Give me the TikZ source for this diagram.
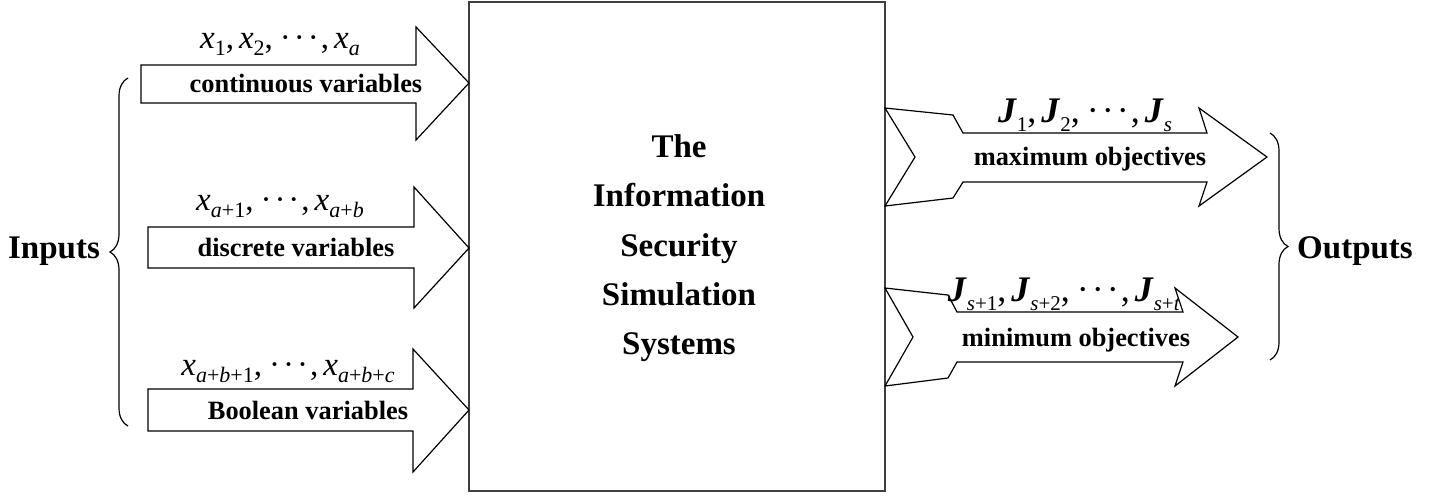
\documentclass[tikz,border=0pt]{standalone}
\usepackage{fontspec}
\setmainfont{Liberation Serif}
\usepackage{tikz}
\usetikzlibrary{decorations.pathreplacing}

% variables with a lowered index
\newcommand{\xv}[1]{\textit{x}\raisebox{-3.5pt}{\fontsize{11}{11}\selectfont#1}}
\newcommand{\Jv}[1]{\textbf{\textit{J}}\raisebox{-4.5pt}{\fontsize{10.5}{10.5}\selectfont#1}}
\newcommand{\dts}{\kern1pt·\kern1.5pt·\kern1.5pt·\kern1pt}
\newcommand{\cm}{,\kern2.5pt}

\begin{document}
\begin{tikzpicture}[x=0.5pt,y=-0.5pt,line width=0.6pt,
  lbl/.style={font=\fontsize{13.2}{13}\selectfont\bfseries,anchor=base},
  mth/.style={font=\fontsize{16.5}{16.5}\selectfont,anchor=base},
  mthJ/.style={font=\fontsize{18}{18}\selectfont,anchor=base},
  big/.style={font=\fontsize{16.5}{16.5}\selectfont\bfseries,anchor=base},
  brc/.style={decorate,decoration={brace,amplitude=9pt}}]
  \useasboundingbox (0,0) rectangle (1434,495);

  % the system block
  \draw[gray!50!black] (469,2) rectangle (885,491);
  \node[big] (the)  at (679,157) {The};
  \node[big] (info) at (679,206) {Information};
  \node[big] (sec)  at (679,256) {Security};
  \node[big] (sim)  at (679,305) {Simulation};
  \node[big] (sys)  at (679,354) {Systems};

  % input arrows
  \draw (141,65) -- (416,65) -- (416,27) -- (469,83) -- (416,140) -- (416,103) -- (141,103) -- cycle;
  \draw (148,227) -- (414,227) -- (414,187) -- (469,248) -- (414,308) -- (414,268) -- (148,268) -- cycle;
  \draw (148,389) -- (413,389) -- (413,349) -- (469,410) -- (413,472) -- (413,431) -- (148,431) -- cycle;

  \node[mth] (xcont) at (280,48) {\xv{1}\cm\xv{2}\cm\dts\cm\xv{\textit{a}}};
  \node[lbl] (cont)  at (306,92) {continuous variables};
  \node[mth] (xdisc) at (280,210) {\xv{\textit{a}+1}\cm\dts\cm\xv{\textit{a}+\textit{b}}};
  \node[lbl] (disc)  at (296,256) {discrete variables};
  \node[mth] (xbool) at (288,375) {\xv{\textit{a}+\textit{b}+1}\cm\dts\cm\xv{\textit{a}+\textit{b}+\textit{c}}};
  \node[lbl] (bool)  at (308,419) {Boolean variables};

  % output arrows, tails flared against the block
  \draw (885,108) -- (953,115) -- (963,133) -- (1207,133) -- (1199,108) -- (1267,157)
    -- (1199,206) -- (1207,182) -- (963,182) -- (953,198) -- (885,206) -- (915,157) -- cycle;
  \draw (885,288) -- (948,295) -- (957,312) -- (1183,312) -- (1175,288) -- (1238,337)
    -- (1175,386) -- (1183,362) -- (957,362) -- (948,378) -- (885,386) -- (913,337) -- cycle;

  \node[mthJ] (jmax) at (1085,122) {\Jv{1}\cm\Jv{2}\cm\dts\cm\Jv{\textit{s}}};
  \node[lbl]  (max)  at (1090,165) {maximum objectives};
  \node[mthJ] (jmin) at (1064,301) {\Jv{\textit{s}+1}\cm\Jv{\textit{s}+2}\cm\dts\cm\Jv{\textit{s}+\textit{t}}};
  \node[lbl]  (min)  at (1076,346) {minimum objectives};

  % braces
  \coordinate (inTop) at (128,78);
  \coordinate (inBot) at (128,426);
  \draw[brc] (inBot) -- (inTop);
  \node[big] (inputs) at (54,258) {Inputs};

  \coordinate (outTop) at (1270,133);
  \coordinate (outBot) at (1270,360);
  \draw[brc] (outTop) -- (outBot);
  \node[big] (outputs) at (1355,258) {Outputs};
\end{tikzpicture}
\end{document}
